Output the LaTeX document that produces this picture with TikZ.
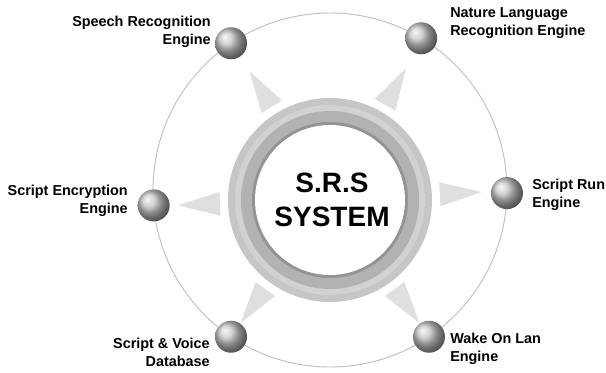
\documentclass[tikz,border=0pt]{standalone}
\usepackage{fontspec}
\setmainfont{Liberation Sans}
\usetikzlibrary{shapes,positioning,calc}

\tikzset{
  engine/.style={circle, minimum size=24pt, inner sep=0pt, ball color=gray!45},
  tag/.style={font=\fontsize{10.8}{13.5}\selectfont\bfseries, inner sep=0pt},
  pointer/.style={fill=gray!25},
}

\begin{document}
\begin{tikzpicture}[x=0.75pt, y=0.75pt]
\useasboundingbox (0,0) rectangle (606,372);

\coordinate (hub) at (330,182);
\coordinate (core) at (330,172);

% Orbit
\draw[gray!50, line width=0.7pt] (hub) circle (177);

% Central ring
\fill[gray!45] (core) circle (102);
\fill[gray!35] (core) circle (95);
\fill[gray!60] (core) circle (89);
\fill[gray!85] (core) circle (78);
\fill[white] (core) circle (75);
\node[font=\fontsize{21}{26}\selectfont\bfseries, align=center] (srs) at (332,172) {S.R.S\\SYSTEM};

% Pointers
\foreach \a in {3,60,122,182,234,306}
  \fill[pointer, shift={(core)}, rotate=\a] (110,-12) -- (152,0) -- (110,12) -- cycle;

% Engines
\node[engine] (speech) at ($(hub)+(124:177)$) {};
\node[engine] (nature) at ($(hub)+(59:177)$) {};
\node[engine] (crypt) at ($(hub)+(185:177)$) {};
\node[engine] (run) at ($(hub)+(359:177)$) {};
\node[engine] (db) at ($(hub)+(236:177)$) {};
\node[engine] (wol) at ($(hub)+(304:177)$) {};

% Labels
\node[tag, anchor=east, align=right] (speechtxt) at (211,340) {Speech Recognition\\Engine};
\node[tag, anchor=west, align=left] (naturetxt) at (450,349) {Nature Language\\Recognition Engine};
\node[tag, anchor=east, align=right] (crypttxt) at (128,171) {Script Encryption\\Engine};
\node[tag, anchor=west, align=left] (runtxt) at (532,177) {Script Run\\Engine};
\node[tag, anchor=east, align=right] (dbtxt) at (210,20) {Script \& Voice\\Database};
\node[tag, anchor=west, align=left] (woltxt) at (450,23) {Wake On Lan\\Engine};
\end{tikzpicture}
\end{document}
